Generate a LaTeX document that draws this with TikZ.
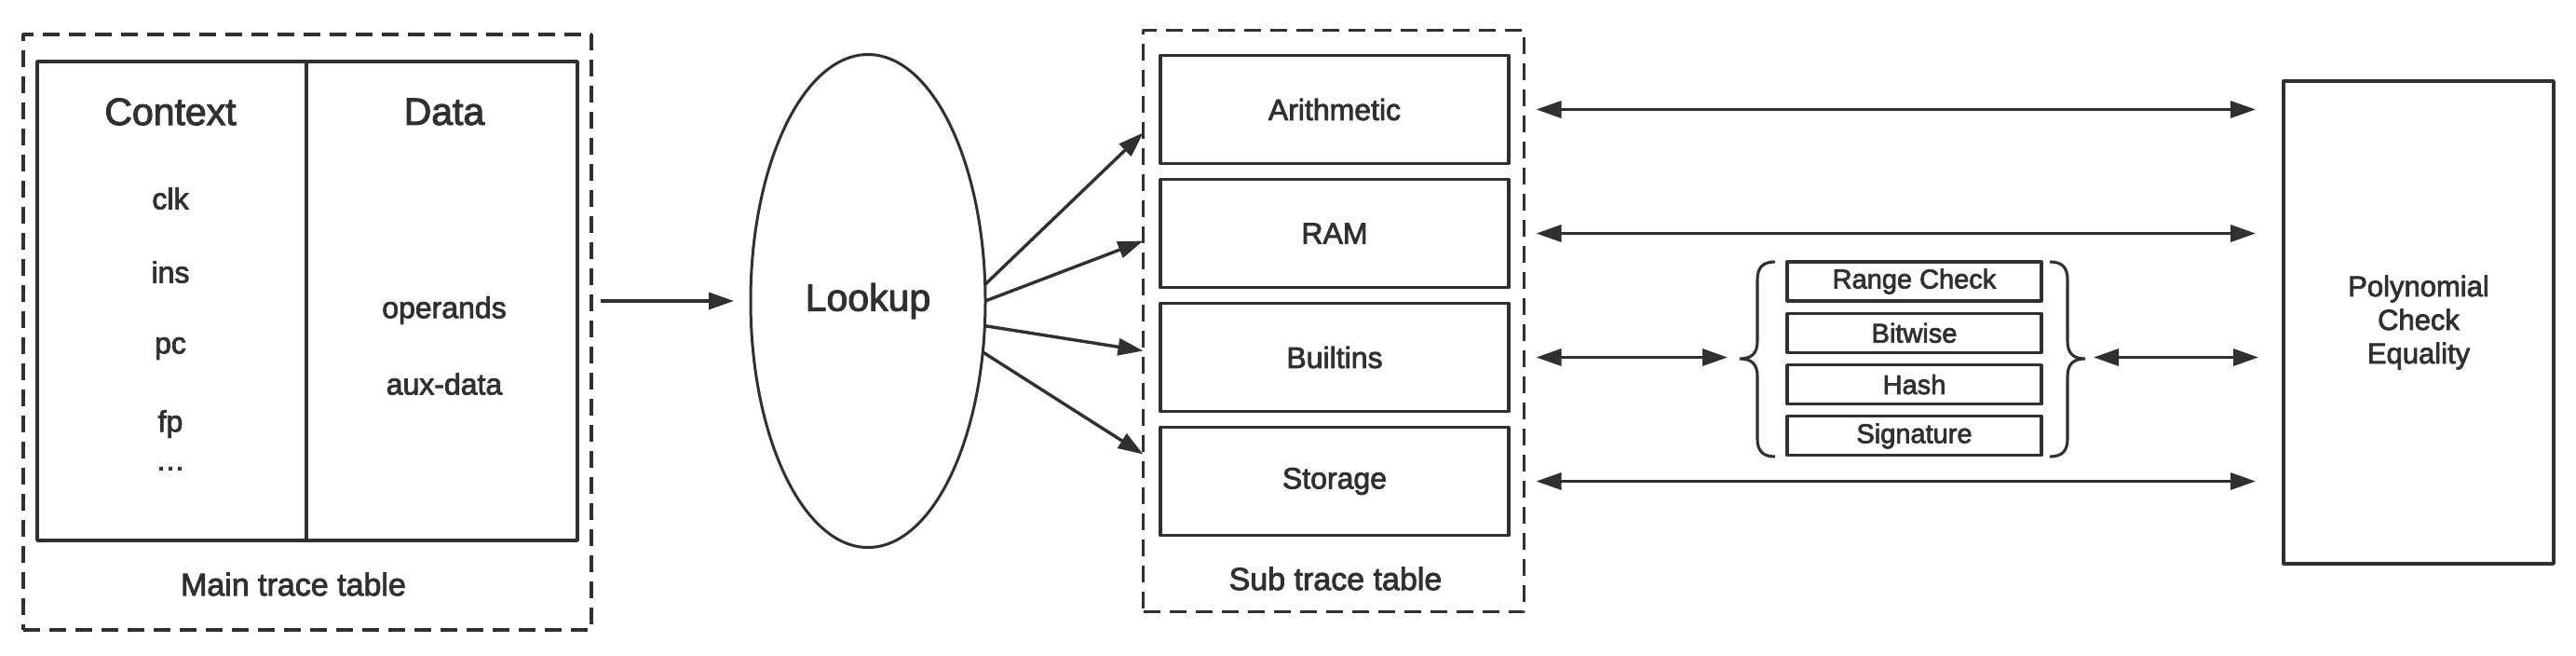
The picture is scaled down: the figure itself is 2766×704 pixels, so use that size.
\documentclass[tikz,border=0pt]{standalone}
\usepackage{fontspec}
\setmainfont[FakeBold=2.5]{Liberation Sans}
\usetikzlibrary{arrows.meta}
\usetikzlibrary{positioning}
\usetikzlibrary{shapes.geometric}
\definecolor{ink}{HTML}{303030}
\tikzset{basic/.style={draw=ink,text=ink,line width=3.4pt,line join=round,inner sep=0pt,outer sep=0pt}}
\tikzset{table/.style={basic,dash pattern=on 18pt off 10pt}}
\tikzset{cell/.style={basic,minimum width=374pt,minimum height=116pt,font=\fontsize{32}{38}\selectfont}}
\tikzset{subcell/.style={basic,line width=3.1pt,minimum width=273pt,minimum height=42pt,font=\fontsize{29}{34}\selectfont}}
\tikzset{txt/.style={text=ink,inner sep=0pt,font=\fontsize{32}{38}\selectfont}}
\tikzset{head/.style={txt,font=\fontsize{41}{48}\selectfont}}
\newcommand{\capfont}{\fontsize{34}{40}\selectfont}

\begin{document}
\begin{tikzpicture}[
> = {Triangle[length=27pt,width=18pt]}, % arrow head style
x = 1pt, y = -1pt, % picture in pixels
line width = 3.4pt,
draw = ink
]
\useasboundingbox (0,0) rectangle (2766,704);

% main trace table
\node[table,minimum width=610pt,minimum height=639pt] (main) at (330,356.5) {};
\node[basic,minimum width=289pt,minimum height=514pt] (ctx) at (184.5,323) {};
\node[basic,minimum width=291pt,minimum height=514pt] (dat) at (474.5,323) {};
\node[head] (ctxhead) at (183,120) {Context};
\node[head] (dathead) at (477,120) {Data};
\node[txt] (clk) at (183,213) {clk};
\node[txt] (ins) at (183,292) {ins};
\node[txt] (pc) at (183,374) {pc};
\node[txt] (fp) at (183,455) {fp};
\node[txt] (more) at (183,503) {\dots};
\node[txt] (oper) at (477,333) {operands};
\node[txt] (aux) at (477,412) {aux-data};
\node[txt,font=\capfont] (mainname) at (315,627) {Main trace table};

% lookup
\node[basic,ellipse,line width=3pt,minimum width=252pt,minimum height=529pt,
  font=\fontsize{41}{48}\selectfont] (lookup) at (932,323) {Lookup};

% sub trace table
\node[table,minimum width=409pt,minimum height=624pt] (sub) at (1432,344.5) {};
\node[cell] (arith) at (1433,117.5) {Arithmetic};
\node[cell,below=17pt of arith] (ram) {RAM};
\node[cell,below=17pt of ram] (blt) {Builtins};
\node[cell,below=17pt of blt] (stor) {Storage};
\node[txt,font=\capfont] (subname) at (1434,621) {Sub trace table};

% builtins
\node[subcell] (rc) at (2055.5,302) {Range Check};
\node[subcell,below=13.3pt of rc] (bit) {Bitwise};
\node[subcell,below=13.3pt of bit] (hash) {Hash};
\node[subcell,below=13.3pt of hash] (sig) {Signature};
\coordinate (lbr) at (1868,385);
\coordinate (rbr) at (2239,385);
\draw[line width=3.1pt] (1906,281) .. controls (1893,281) and (1887,287) .. (1887,300)
  -- (1887,366) .. controls (1887,379) and (1881,385) .. (lbr)
  .. controls (1881,385) and (1887,391) .. (1887,404)
  -- (1887,471) .. controls (1887,484) and (1893,490) .. (1906,490);
\draw[line width=3.1pt] (2201,281) .. controls (2214,281) and (2220,287) .. (2220,300)
  -- (2220,366) .. controls (2220,379) and (2226,385) .. (rbr)
  .. controls (2226,385) and (2220,391) .. (2220,404)
  -- (2220,471) .. controls (2220,484) and (2214,490) .. (2201,490);

% check
\node[basic,minimum width=290pt,minimum height=518pt,align=center,
  font=\fontsize{31}{36}\selectfont] (poly) at (2597,346) {Polynomial\\Check\\Equality};

\draw[->,shorten <=10pt,shorten >=18pt] (main.east |- lookup) -- (lookup.west);
\draw[->] (lookup.8) -- ([yshift=-25pt]arith.west -| sub.west);
\draw[->] (lookup.0) -- ([yshift=-8pt]ram.west -| sub.west);
\draw[->] (lookup.-12) -- ([yshift=7pt]blt.west -| sub.west);
\draw[->] (lookup.-24) -- ([yshift=29pt]stor.west -| sub.west);

\foreach \n in {arith,ram,stor}
  \draw[<->,shorten <=13pt,shorten >=30pt] (\n.east -| sub.east) -- (\n.east -| poly.west);
\draw[<->,shorten <=13pt,shorten >=13pt] (blt.east -| sub.east) -- (blt.east -| lbr);
\draw[<->,shorten <=9pt,shorten >=27pt] (blt.east -| rbr) -- (blt.east -| poly.west);
\end{tikzpicture}
\end{document}
